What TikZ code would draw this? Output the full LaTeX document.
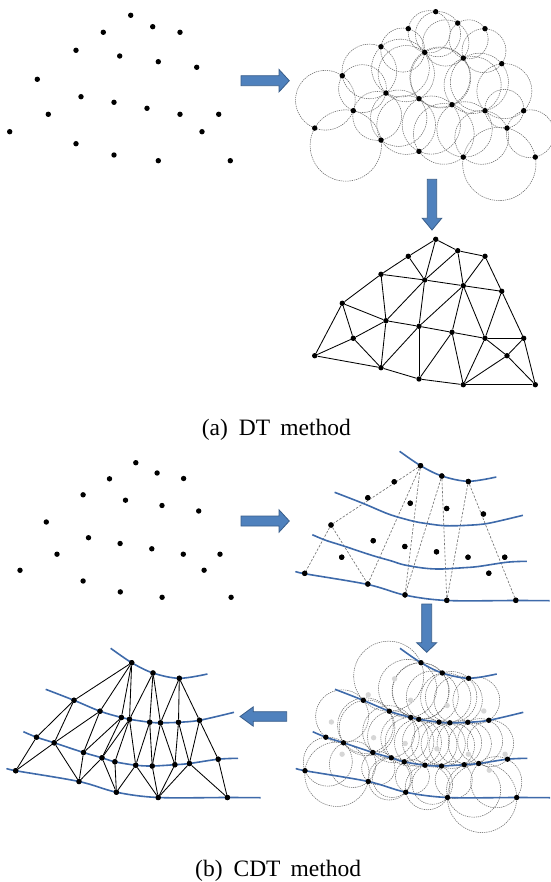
\documentclass[tikz,border=0pt]{standalone}
\usepackage{fontspec}
\setmainfont{Liberation Serif}
\definecolor{curveblue}{RGB}{62,106,170}
\definecolor{arrowfill}{RGB}{79,129,189}
\definecolor{arrowline}{RGB}{56,93,138}

% DT point set (frame of the top-left panel)
\def\dtpts{A/130.7/15.3,B/152.7/26.7,C/103.3/32.3,D/180/32.3,E/76/50.3,F/119.7/56,G/158.3/61.7,H/196.7/67.3,I/37.3/79.3,J/81/96.7,K/114/102.3,L/147/108.3,M/180/114.3,N/218.7/114.3,O/48.3/114.3,P/9.7/131.7,Q/202/131.7,R/76/143.7,S/114/155,T/158.3/160.7,U/230.3/160.7}
% CDT points on the curves (frame of the circle panel)
\def\cdtpts{a1/421/662.7,a2/442.3/673,a3/468.6/678.3,b1/363.3/700.3,b2/389.3/711.2,b3/410.7/717.5,b4/418.8/719.3,b5/439/722.2,b6/449.8/722.8,b7/467.8/722.3,b8/488.8/720.3,c1/325.8/737.2,c2/343.5/742.8,c3/372.8/752.5,c4/391.3/757.8,c5/404.2/761.8,c6/425/765.2,c7/441.5/766,c8/464.2/764.7,c9/478.7/763.5,c10/507.5/759.2,d1/305/770.7,d2/368.3/781.5,d3/405.7/792.2,d4/447.5/797.5,d5/516.7/797.5}
% CDT scattered points (frame of the upper right panel)
\def\cdtint{C/394.2/481.8,E/367.8/497.8,F/410.2/503.2,G/446.7/508.5,H/483.4/514,I/331/525,J/373.2/540.7,K/404.8/546.5,L/436.5/551.8,M/468/557.2,N/504.7/557.2,O/341.7/557.2,Q/488.8/573.2}
\def\cdtbnd{A/420.5/465.7,B/441.8/476,D/468.3/481.5,P/304.7/573.3,R/367.8/584,S/405/594.9,T/446.8/600.3,U/515.8/600.3}

\foreach \n/\x/\y in \dtpts {\expandafter\xdef\csname ptx\n\endcsname{\x}\expandafter\xdef\csname pty\n\endcsname{\y}}
\foreach \n/\x/\y in \cdtpts {\expandafter\xdef\csname ptx\n\endcsname{\x}\expandafter\xdef\csname pty\n\endcsname{\y}}

\newcommand\ccirc[3]{%
  \pgfmathsetmacro\zxa{\csname ptx#1\endcsname}%
  \pgfmathsetmacro\zya{\csname pty#1\endcsname}%
  \pgfmathsetmacro\zbx{(\csname ptx#2\endcsname-\zxa)/10}%
  \pgfmathsetmacro\zby{(\csname pty#2\endcsname-\zya)/10}%
  \pgfmathsetmacro\zcx{(\csname ptx#3\endcsname-\zxa)/10}%
  \pgfmathsetmacro\zcy{(\csname pty#3\endcsname-\zya)/10}%
  \pgfmathsetmacro\zdd{2*(\zbx*\zcy-\zby*\zcx)}%
  \pgfmathsetmacro\zbb{\zbx*\zbx+\zby*\zby}%
  \pgfmathsetmacro\zcc{\zcx*\zcx+\zcy*\zcy}%
  \pgfmathsetmacro\zux{(\zcy*\zbb-\zby*\zcc)/\zdd}%
  \pgfmathsetmacro\zuy{(\zbx*\zcc-\zcx*\zbb)/\zdd}%
  \pgfmathsetmacro\zrr{10*sqrt(\zux*\zux+\zuy*\zuy)}%
  \pgfmathsetmacro\zox{\zxa+10*\zux}%
  \pgfmathsetmacro\zoy{\zya+10*\zuy}%
  \draw[circ] (\zox,\zoy) circle[radius=\zrr pt];%
}

\newcommand\cdtcurves{%
  \draw[bcurve] plot[smooth,tension=0.55] coordinates {(400,648.3) (421,662.7) (442.3,673) (468.6,678.3) (496.7,674)};
  \draw[bcurve] plot[smooth,tension=0.55] coordinates {(335,689.3) (363.3,700.3) (389.3,711.2) (410.7,717.5) (418.8,719.3) (439,722.2) (449.8,722.8) (467.8,722.3) (488.8,720.3) (523.3,712.3)};
  \draw[bcurve] plot[smooth,tension=0.55] coordinates {(312.7,731.7) (325.8,737.2) (343.5,742.8) (372.8,752.5) (391.3,757.8) (404.2,761.8) (425,765.2) (441.5,766) (464.2,764.7) (478.7,763.5) (507.5,759.2) (527.3,758.3)};
  \draw[bcurve] plot[smooth,tension=0.55] coordinates {(296,768.3) (305,770.7) (368.3,781.5) (405.7,792.2) (447.5,797.5) (516.7,797.5) (550,797.7)};
}

\begin{document}
\begin{tikzpicture}[x=1pt,y=-1pt,
  dot/.style={circle,fill=black,inner sep=0pt,minimum size=5.4pt},
  gdot/.style={circle,fill=black!16,inner sep=0pt,minimum size=5.4pt},
  circ/.style={draw=black!58,line width=0.55pt,dash pattern=on 1.3pt off 0.9pt},
  medge/.style={draw=black,line width=0.85pt},
  dedge/.style={draw=black!55,line width=0.65pt,dash pattern=on 2.4pt off 1.6pt},
  bcurve/.style={draw=curveblue,line width=1.6pt},
  barrow/.style={fill=arrowfill,draw=arrowline,line width=0.8pt},
  capt/.style={font=\fontsize{23.5}{27}\selectfont,anchor=base west,inner sep=0pt}]
\useasboundingbox (0,0) rectangle (550,882);

% ---------------- (a) DT method ----------------
\foreach \n/\x/\y in \dtpts {\node[dot] (p1\n) at (\x,\y) {};}
\draw[barrow] (241,75.7) -- (279,75.7) -- (279,69.5) -- (289.3,80.7) -- (279,91.9) -- (279,85.7) -- (241,85.7) -- cycle;
\begin{scope}[shift={(305,-3.6)}]
  \foreach \a/\b/\c in {A/B/F,A/C/F,B/F/G,B/D/G,D/G/H,C/E/F,E/F/J,F/J/K,F/G/K,G/K/L,G/L/M,G/H/M,H/M/N,E/I/J,I/J/O,I/O/P,J/O/R,O/P/R,J/K/R,K/R/S,K/L/S,L/S/T,L/M/T,M/Q/T,M/N/Q,N/Q/U,Q/T/U} {\ccirc{\a}{\b}{\c}}
  \foreach \n/\x/\y in \dtpts {\node[dot] (p2\n) at (\x,\y) {};}
\end{scope}
\draw[barrow] (427.3,179.3) -- (436.7,179.3) -- (436.7,218.3) -- (441.7,218.3) -- (432,230) -- (422.3,218.3) -- (427.3,218.3) -- cycle;
\begin{scope}[shift={(305,224)}]
  \foreach \n/\x/\y in \dtpts {\node[dot] (p3\n) at (\x,\y) {};}
  \foreach \a/\b in {A/B,A/C,A/F,B/F,B/D,B/G,D/G,D/H,C/E,C/F,E/F,E/I,E/J,F/G,F/J,F/K,G/H,G/K,G/L,G/M,H/M,H/N,I/J,I/O,I/P,J/K,J/O,J/R,K/L,K/S,K/R,L/M,L/S,L/T,M/N,M/Q,M/T,N/Q,N/U,O/P,O/R,P/R,Q/T,Q/U,R/S,S/T,T/U} {\draw[medge] (p3\a) -- (p3\b);}
\end{scope}
\node[capt] (capa) at (201.7,435) {(a)\hspace{11pt}DT\hspace{10pt}method};

% ---------------- (b) CDT method ----------------
\begin{scope}[shift={(-284.7,-3)}]
  \foreach \n/\x/\y in \cdtint {\node[dot] (q1\n) at (\x,\y) {};}
  \foreach \n/\x/\y in \cdtbnd {\node[dot] (q1\n) at (\x,\y) {};}
\end{scope}
\draw[barrow] (241,516) -- (279,516) -- (279,509.8) -- (289.3,521) -- (279,532.2) -- (279,526) -- (241,526) -- cycle;
\foreach \n/\x/\y in \cdtint {\node[dot] (q2\n) at (\x,\y) {};}
\foreach \n/\x/\y in \cdtbnd {\node[dot] (q2\n) at (\x,\y) {};}
\foreach \a/\b in {A/I,I/P,I/R,A/R,A/S,B/S,B/T,D/T,D/U} {\draw[dedge] (q2\a) -- (q2\b);}
\begin{scope}[shift={(-0.4,-197)}]
  \cdtcurves
\end{scope}
\foreach \n/\x/\y in \cdtint {\node[dot] at (\x,\y) {};}
\foreach \n/\x/\y in \cdtbnd {\node[dot] at (\x,\y) {};}
\draw[barrow] (421.7,604) -- (431.7,604) -- (431.7,642.7) -- (436.7,642.7) -- (426.7,652.3) -- (416.7,642.7) -- (421.7,642.7) -- cycle;
\foreach \a/\b/\c in {a1/b1/b2,a1/b2/b3,a1/b3/b4,a1/b4/a2,a2/b4/b5,a2/b5/b6,a2/b6/a3,a3/b6/b7,a3/b7/b8,b1/c1/c2,b1/c2/b2,b2/c2/c3,b2/c3/b3,b3/c3/c4,b3/c4/b4,b4/c4/c5,b4/c5/c6,b4/c6/b5,b5/c6/c7,b5/c7/b6,b6/c7/c8,b6/c8/b7,b7/c8/c9,b7/c9/b8,b8/c9/c10,d1/c1/c2,d1/c2/d2,d2/c2/c3,d2/c3/c4,d2/c4/d3,d3/c4/c5,d3/c5/c6,d3/c6/d4,d4/c6/c7,d4/c7/c8,d4/c8/c9,d4/c9/d5,d5/c9/c10} {\ccirc{\a}{\b}{\c}}
\begin{scope}[shift={(0.4,197)}]
  \foreach \n/\x/\y in \cdtint {\node[gdot] (zg-\n) at (\x,\y) {};}
\end{scope}
\cdtcurves
\foreach \n/\x/\y in \cdtpts {\node[dot] (zc-\n) at (\x,\y) {};}
\draw[barrow] (286.7,711.7) -- (253.3,711.7) -- (253.3,706.8) -- (240,716.5) -- (253.3,726.2) -- (253.3,721.3) -- (286.7,721.3) -- cycle;
\begin{scope}[shift={(-289.3,0)}]
  \foreach \n/\x/\y in \cdtpts {\node[dot] (zm-\n) at (\x,\y) {};}
  \foreach \a/\b in {a1/b1,a1/b2,a1/b3,a1/b4,a2/b4,a2/b5,a2/b6,a3/b6,a3/b7,a3/b8,b1/c1,b1/c2,b2/c2,b2/c3,b3/c3,b3/c4,b4/c4,b4/c5,b4/c6,b5/c6,b5/c7,b6/c7,b6/c8,b7/c8,b7/c9,b8/c9,b8/c10,d1/c1,d1/c2,d2/c2,d2/c3,d2/c4,d3/c4,d3/c5,d3/c6,d4/c6,d4/c7,d4/c8,d4/c9,d5/c9,d5/c10} {\draw[medge] (zm-\a) -- (zm-\b);}
  \cdtcurves
  \foreach \n/\x/\y in \cdtpts {\node[dot] at (\x,\y) {};}
\end{scope}
\node[capt] (capb) at (195,876) {(b)\hspace{11pt}CDT\hspace{10pt}method};
\end{tikzpicture}
\end{document}
